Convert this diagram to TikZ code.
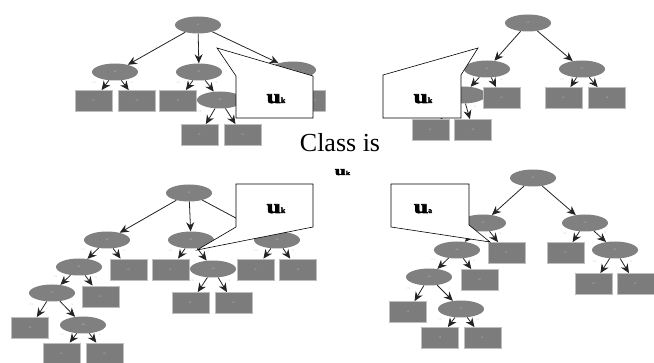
\documentclass[tikz,border=0pt]{standalone}
\usepackage{fontspec}
\setmainfont{Liberation Serif}
\newfontface\heavyfont[FakeBold=3]{Liberation Serif Bold}
\usetikzlibrary{shapes.geometric,arrows.meta}

\definecolor{nodegray}{RGB}{128,128,128}
\definecolor{leafgray}{RGB}{124,124,124}
\definecolor{leafrim}{RGB}{190,190,190}
\definecolor{edgecol}{RGB}{35,35,35}
\definecolor{tinytext}{RGB}{205,205,205}
\definecolor{elabcol}{RGB}{165,165,165}

\newcommand{\microfont}{\fontsize{2.6}{3}\selectfont}
% wide bold "u" with a small index letter
\newcommand{\uindex}[1]{\scalebox{1.35}[1]{\fontsize{19}{19}\heavyfont u}{\fontsize{8}{8}\heavyfont #1}}

\begin{document}
\begin{tikzpicture}[x=1pt,y=-1pt,
  splitnode/.style={ellipse,fill=nodegray,minimum width=46pt,minimum height=17pt,
    inner sep=0pt,font=\microfont,text=tinytext},
  leafbox/.style={rectangle,fill=leafgray,draw=leafrim,line width=0.8pt,
    minimum width=37pt,minimum height=21pt,inner sep=0pt,font=\microfont,text=tinytext},
  treearc/.style={draw=edgecol,line width=0.8pt,-{Stealth[length=9pt,width=8pt]}},
  elab/.style={font=\microfont,text=elabcol,inner sep=0.4pt},
  elabL/.style={elab,pos=0.2,left=11pt},
  elabR/.style={elab,pos=0.2,right=7pt},
  elabM/.style={elab,midway,sloped},
  callbox/.style={draw=black,fill=white,line width=0.6pt,line join=miter},
  bigtext/.style={font=\fontsize{26}{26}\selectfont,anchor=base,inner sep=0pt},
  idxtext/.style={anchor=base,inner sep=0pt}
]
\useasboundingbox (0,0) rectangle (654,363);

% ---------------- upper left tree ----------------
\begin{scope}
  \clip (0,0) rectangle (325.5,160);
  \node[splitnode] (ra) at (198,25) {x1};
  \node[splitnode] (a1) at (115,72) {x2};
  \node[splitnode] (a2) at (199,72) {x3};
  \node[splitnode] (a3) at (293,70) {x4};
  \node[leafbox] (a11) at (93.5,101) {c1};
  \node[leafbox] (a12) at (137,101) {c2};
  \node[leafbox] (a21) at (178,101) {c1};
  \node[splitnode] (a22) at (220,100) {x5};
  \node[leafbox] (a31) at (272,101) {};
  \node[leafbox] (a32) at (315,101) {c1};
  \node[leafbox] (a221) at (199.5,135) {c1};
  \node[leafbox] (a222) at (242.5,135) {c2};
  \draw[treearc] (ra) -- node[elabM]{=a} (a1);
  \draw[treearc] (ra) -- node[elabM]{=b} (a2);
  \draw[treearc] (ra) -- node[elabM]{=c} (a3);
  \draw[treearc] (a1) -- node[elabL]{<=t} (a11);
  \draw[treearc] (a1) -- node[elabR]{>t} (a12);
  \draw[treearc] (a2) -- node[elabL]{<=t} (a21);
  \draw[treearc] (a2) -- node[elabR]{>t} (a22);
  \draw[treearc] (a3) -- (a31);
  \draw[treearc] (a3) -- (a32);
  \draw[treearc] (a22) -- node[elabL]{<=t} (a221);
  \draw[treearc] (a22) -- node[elabR]{>t} (a222);
\end{scope}

% ---------------- upper right tree ----------------
\node[splitnode] (rb) at (528,23) {x1};
\node[splitnode] (b1) at (487,69) {x2};
\node[splitnode] (b2) at (582,69) {x3};
\node[splitnode] (b11) at (463,95) {};
\node[leafbox] (b12) at (501.5,98) {c2};
\node[leafbox] (b21) at (563.5,98) {c1};
\node[leafbox] (b22) at (607,98) {c2};
\node[leafbox] (b111) at (430.5,130) {c1};
\node[leafbox] (b112) at (473,130) {c2};
\draw[treearc] (rb) -- node[elabM]{<=a} (b1);
\draw[treearc] (rb) -- node[elabM]{>a} (b2);
\draw[treearc] (b1) -- (b11);
\draw[treearc] (b1) -- node[elabR]{>t} (b12);
\draw[treearc] (b2) -- node[elabL]{<=t} (b21);
\draw[treearc] (b2) -- node[elabR]{>t} (b22);
\draw[treearc] (b11) -- (b111);
\draw[treearc] (b11) -- node[elabR]{>t} (b112);

% ---------------- lower left tree ----------------
\node[splitnode] (rc) at (189,193) {x1};
\node[splitnode] (c1) at (107,240) {x2};
\node[splitnode] (c2) at (191,240) {x3};
\node[splitnode] (c3) at (277,240) {x4};
\node[splitnode] (c11) at (79,267) {x5};
\node[leafbox] (c12) at (128.5,269.5) {c2};
\node[leafbox] (c21) at (170.5,269.5) {c1};
\node[splitnode] (c22) at (213,269) {x6};
\node[leafbox] (c31) at (255.5,269.5) {c1};
\node[leafbox] (c32) at (298,269.5) {c2};
\node[splitnode] (c111) at (52,293) {x7};
\node[leafbox] (c112) at (100.5,296.5) {c1};
\node[leafbox] (c221) at (190.5,303) {c1};
\node[leafbox] (c222) at (233.5,303) {c2};
\node[leafbox] (c1111) at (30,328) {c2};
\node[splitnode] (c1112) at (83,325) {x8};
\node[leafbox] (c11121) at (61.5,353.5) {c1};
\node[leafbox] (c11122) at (104.5,353.5) {c2};
\draw[treearc] (rc) -- node[elabM]{=a} (c1);
\draw[treearc] (rc) -- node[elabM]{=b} (c2);
\draw[treearc] (rc) -- (c3);
\draw[treearc] (c1) -- node[elabL]{<=t} (c11);
\draw[treearc] (c1) -- node[elabR]{>t} (c12);
\draw[treearc] (c2) -- node[elabL]{<=t} (c21);
\draw[treearc] (c2) -- node[elabR]{>t} (c22);
\draw[treearc] (c3) -- node[elabL]{<=t} (c31);
\draw[treearc] (c3) -- node[elabR]{>t} (c32);
\draw[treearc] (c11) -- node[elabL]{<=t} (c111);
\draw[treearc] (c11) -- node[elabR]{>t} (c112);
\draw[treearc] (c22) -- node[elabL]{<=t} (c221);
\draw[treearc] (c22) -- node[elabR]{>t} (c222);
\draw[treearc] (c111) -- node[elabL]{<=t} (c1111);
\draw[treearc] (c111) -- node[elabR]{>t} (c1112);
\draw[treearc] (c1112) -- node[elabL]{<=t} (c11121);
\draw[treearc] (c1112) -- node[elabR]{>t} (c11122);

% ---------------- lower right tree ----------------
\node[splitnode] (rd) at (533,178) {x1};
\node[splitnode] (d1) at (483,223) {x2};
\node[splitnode] (d2) at (585,223) {x3};
\node[splitnode] (d11) at (457,250) {x4};
\node[leafbox] (d12) at (506.5,253) {c1};
\node[leafbox] (d21) at (565.5,253) {c1};
\node[splitnode] (d22) at (615,250) {x5};
\node[leafbox] (d221) at (593.5,284) {c2};
\node[leafbox] (d222) at (635.5,284) {c1};
\node[splitnode] (d111) at (429,277) {x6};
\node[leafbox] (d112) at (479.5,280) {c2};
\node[leafbox] (d1111) at (408,312) {c1};
\node[splitnode] (d1112) at (461,309) {x7};
\node[leafbox] (d11121) at (440,338) {c2};
\node[leafbox] (d11122) at (482.5,338) {c1};
\draw[treearc] (rd) -- node[elabM]{<=a} (d1);
\draw[treearc] (rd) -- node[elabM]{>a} (d2);
\draw[treearc] (d1) -- (d11);
\draw[treearc] (d1) -- node[elabR]{>t} (d12);
\draw[treearc] (d2) -- node[elabL]{<=t} (d21);
\draw[treearc] (d2) -- node[elabR]{>t} (d22);
\draw[treearc] (d22) -- node[elabL]{<=t} (d221);
\draw[treearc] (d22) -- node[elabR]{>t} (d222);
\draw[treearc] (d11) -- node[elabL]{<=t} (d111);
\draw[treearc] (d11) -- node[elabR]{>t} (d112);
\draw[treearc] (d111) -- node[elabL]{<=t} (d1111);
\draw[treearc] (d111) -- node[elabR]{>t} (d1112);
\draw[treearc] (d1112) -- node[elabL]{<=t} (d11121);
\draw[treearc] (d1112) -- node[elabR]{>t} (d11122);

% ---------------- callouts ----------------
\draw[callbox] (217,48) -- (313,76) -- (313,118) -- (236,118) -- (236,76) -- cycle;
\node[idxtext] (uk1) at (276,103) {\uindex{k}};

\draw[callbox] (478,48) -- (461,75) -- (461,118) -- (383,118) -- (383,75) -- cycle;
\node[idxtext] (uk2) at (423,103) {\uindex{k}};

\draw[callbox] (236,184) -- (313,184) -- (313,227) -- (197,250) -- (236,227) -- cycle;
\node[idxtext] (uk3) at (276,213) {\uindex{k}};

\draw[callbox] (391,184) -- (469,184) -- (469,225) -- (490,242) -- (391,227) -- cycle;
\node[idxtext] (ua4) at (423,213) {\uindex{a}};

% ---------------- caption in the middle ----------------
\node[bigtext] (cls) at (340,152) {Class is};
\node[idxtext] (ukmid) at (342.5,175)
  {\scalebox{1}[0.75]{\scalebox{1.15}[1]{\fontsize{17}{17}\heavyfont u}{\fontsize{8}{8}\heavyfont k}}};
\end{tikzpicture}
\end{document}
